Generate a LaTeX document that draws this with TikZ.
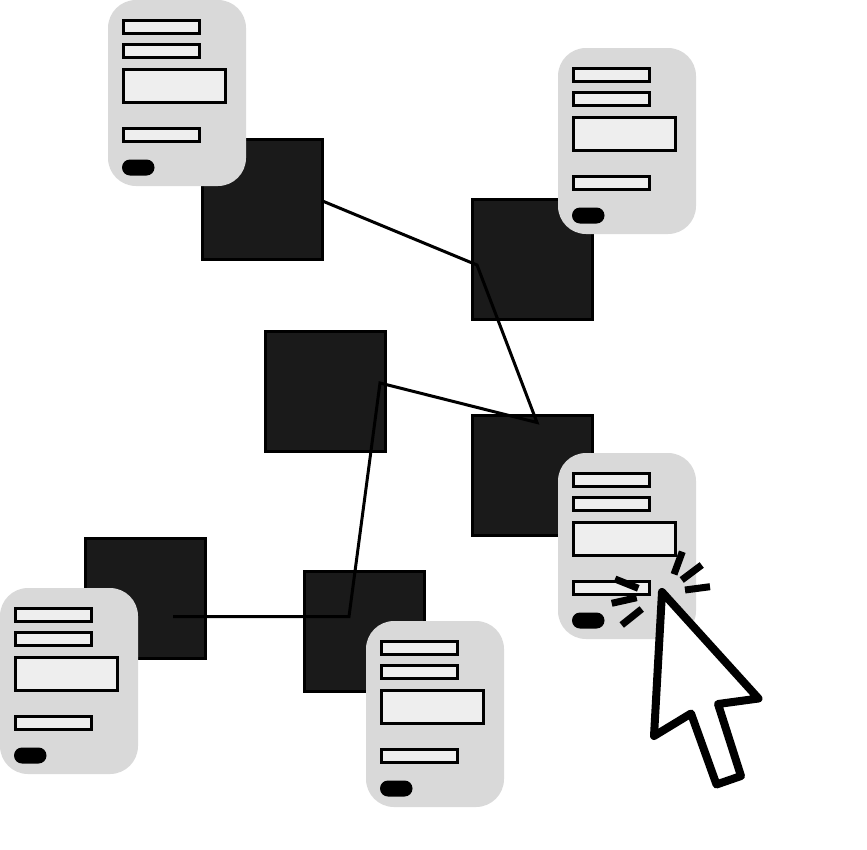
\documentclass[tikz,border=0pt]{standalone}
\definecolor{blockfill}{HTML}{1A1A1A}
\definecolor{cardfill}{HTML}{D9D9D9}
\definecolor{fieldfill}{HTML}{EEEEEE}
\tikzset{
  block/.style={draw=black,line width=3pt,fill=blockfill,minimum size=120pt,inner sep=0pt,outer sep=0pt},
  card/.style={fill=cardfill,minimum width=138pt,minimum height=186pt,rounded corners=28pt,inner sep=0pt,outer sep=0pt,anchor=north west},
  field/.style={draw=black,line width=3pt,fill=fieldfill,inner sep=0pt,outer sep=0pt,anchor=north west},
  pill/.style={fill=black,rounded corners=8pt,minimum width=32.5pt,minimum height=16pt,inner sep=0pt,outer sep=0pt,anchor=north west},
  wire/.style={line width=3pt,line join=miter},
  spark/.style={line width=7pt}
}
\begin{document}
\begin{tikzpicture}[x=1pt,y=-1pt]
\useasboundingbox (0,0) rectangle (867,849);
\node[block] (blockA) at (262.5,199.5) {};
\node[block] (blockB) at (532.5,259.5) {};
\node[block] (blockC) at (325.5,391.5) {};
\node[block] (blockD) at (532.5,475.5) {};
\node[block] (blockE) at (145.5,598.5) {};
\node[block] (blockF) at (364.5,631.5) {};
\coordinate (w1) at ([yshift=-1.5pt]blockA.east);
\coordinate (w2) at (477,265);
\coordinate (w3) at (537,422.5);
\coordinate (w4) at (380,383);
\coordinate (w5) at (349,616.5);
\coordinate (w6) at (173,616.5);
\draw[wire] (w6)--(w5)--(w4)--(w3)--(w2)--(w1);
\foreach \n/\x/\y in {A/108/0,B/558/48,D/558/453,E/0/588,F/366/621}{
  \node[card] (card\n) at (\x,\y) {};
  \node[field,minimum width=76pt,minimum height=13pt] (name\n) at (\x+15.5,\y+20) {};
  \node[field,minimum width=76pt,minimum height=13pt] (mail\n) at (\x+15.5,\y+44.5) {};
  \node[field,minimum width=102pt,minimum height=33pt] (text\n) at (\x+15.5,\y+69.5) {};
  \node[field,minimum width=76pt,minimum height=13pt] (code\n) at (\x+15.5,\y+128.5) {};
  \node[pill] (send\n) at (\x+14,\y+159.5) {};
}
\draw[spark] (682.3,551.7)--(674,574.3);
\draw[spark] (701.7,565)--(681.7,580);
\draw[spark] (710,586.7)--(685,590);
\draw[spark] (638.3,588.3)--(615,579);
\draw[spark] (636.7,597.7)--(611.7,603.3);
\draw[spark] (641.7,609)--(621.7,625);
\draw[line width=8pt,line join=round,fill=white] (662,592)--(758.5,698.5)--(718,704)--(741,776)--(716.5,784.5)--(691,713.5)--(654,736)--cycle;
\end{tikzpicture}
\end{document}
